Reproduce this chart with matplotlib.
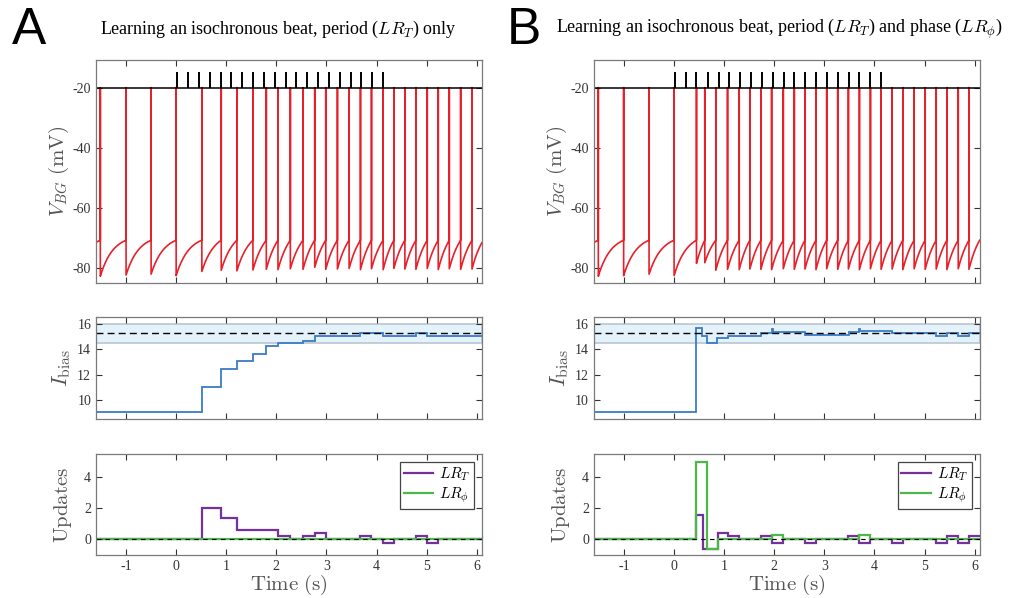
import numpy as np
import matplotlib.pyplot as plt

plt.rcParams['font.family'] = ['Liberation Serif', 'DejaVu Serif']
plt.rcParams['mathtext.fontset'] = 'cm'
plt.rcParams['axes.unicode_minus'] = False

# spike times of the BG neuron (s)
spikes_A = [-1.514, -1.0, -0.5, 0.0, 0.513, 0.9, 1.213, 1.533, 1.8, 2.033, 2.28, 2.533,
            2.767, 2.987, 3.22, 3.453, 3.68, 3.9, 4.133, 4.347, 4.567, 4.787, 5.013,
            5.233, 5.453, 5.68, 5.907]
spikes_B = [-1.513, -1.007, -0.5, 0.0, 0.447, 0.613, 0.833, 1.067, 1.3, 1.513, 1.733,
            1.947, 2.18, 2.4, 2.613, 2.833, 3.047, 3.267, 3.48, 3.7, 3.92, 4.133, 4.353,
            4.567, 4.793, 5.013, 5.233, 5.447, 5.673, 5.887]
# post-spike minimum (mV)
trough_A = [-82.8, -82.4, -82.1, -82.6, -81.2, -80.8, -81.0, -80.7, -80.5, -80.6, -80.3,
            -80.5, -79.8, -80.5, -80.4, -80.2, -80.6, -80.3, -80.6, -80.2, -80.4, -80.5,
            -80.2, -80.6, -80.3, -80.5, -80.4]
trough_B = [-82.8, -82.6, -82.1, -82.6, -78.5, -78.3, -80.8, -80.5, -80.6, -80.4, -80.5,
            -80.6, -80.3, -80.5, -80.4, -80.6, -80.3, -80.5, -80.4, -80.6, -80.3, -80.5,
            -80.4, -80.6, -80.3, -80.5, -80.4, -80.6, -80.3, -80.5]
# isochronous beat (s)
beat = [0.013, 0.233, 0.447, 0.667, 0.887, 1.1, 1.32, 1.533, 1.747, 1.967, 2.187, 2.4,
        2.62, 2.84, 3.053, 3.267, 3.487, 3.7, 3.92, 4.133]

# I_bias
ib_edges_A = [-1.6, 0.513, 0.9, 1.213, 1.533, 1.8, 2.033, 2.533, 2.767, 3.68, 4.133,
              4.787, 5.013, 6.1]
ib_A = [9.05, 11.05, 12.45, 13.05, 13.65, 14.25, 14.45, 14.65, 15.05, 15.25, 15.05,
        15.25, 15.05]
ib_edges_B = [-1.6, 0.433, 0.567, 0.653, 0.853, 1.08, 1.74, 1.947, 1.965, 2.613, 3.487,
              3.687, 3.705, 4.35, 5.22, 5.447, 5.66, 5.887, 6.1]
ib_B = [9.05, 15.65, 15.05, 14.45, 14.85, 15.05, 15.25, 15.55, 15.35, 15.15, 15.35,
        15.6, 15.45, 15.25, 15.05, 15.25, 15.05, 15.25]
ib_target = 15.25
ib_band = (14.49, 16.01)

# updates
lrT_edges_A = [-1.6, 0.513, 0.9, 1.213, 2.033, 2.28, 2.533, 2.767, 2.987, 3.68, 3.9,
               4.133, 4.347, 4.787, 5.013, 5.233, 6.1]
lrT_A = [0, 2.0, 1.4, 0.6, 0.2, 0, 0.2, 0.4, 0, 0.2, 0, -0.2, 0, 0.2, -0.2, 0]
lrP_edges_A = [-1.6, 6.1]
lrP_A = [0]
lrT_edges_B = [-1.6, 0.433, 0.587, 0.867, 1.08, 1.3, 1.733, 1.947, 2.18, 2.613, 2.833,
               3.48, 3.7, 3.92, 4.353, 4.567, 5.22, 5.447, 5.673, 5.887, 6.1]
lrT_B = [0, 1.6, -0.6, 0.4, 0.2, 0, 0.2, -0.2, 0, -0.2, 0, 0.2, -0.2, 0, -0.2, 0, -0.2,
         0.2, -0.2, 0.2]
lrP_edges_B = [-1.6, 0.433, 0.653, 0.867, 1.947, 2.18, 3.7, 3.92, 6.1]
lrP_B = [0, 5.0, -0.6, 0, 0.28, 0, 0.28, 0]

RED = '#e8202a'
BLUE = '#3a7bc8'
PURPLE = '#74309c'
GREEN = '#4cb84a'
LBL = '#555555'
SPINE = '#7a7a7a'


def vtrace(spk, trough, v_pre=-70.8, tau=0.25):
    ts, vs = [], []
    # recovery before the first spike
    T = spk[1] - spk[0]
    s = np.linspace(0, T, 80)
    v = trough[0] + (v_pre - trough[0]) * (1 - np.exp(-s / tau)) / (1 - np.exp(-T / tau))
    ts += list(spk[0] - T + s)
    vs += list(v)
    for k, t0 in enumerate(spk):
        T = (spk[k + 1] - t0) if k + 1 < len(spk) else (t0 - spk[k - 1])
        s = np.linspace(0, T, 80)
        v = trough[k] + (v_pre - trough[k]) * (1 - np.exp(-s / tau)) / (1 - np.exp(-T / tau))
        ts += [t0, t0] + list(t0 + s)
        vs += [v_pre, -20] + list(v)
    return np.array(ts), np.array(vs)


def style(ax, xlabels=False):
    ax.set_xlim(-1.6, 6.1)
    ax.set_xticks(range(-1, 7))
    ax.tick_params(direction='in', top=True, right=True, length=4, width=0.8,
                   colors='#333333', labelsize=10)
    if not xlabels:
        ax.tick_params(labelbottom=False)
    for sp in ax.spines.values():
        sp.set_color(SPINE)
        sp.set_linewidth(0.9)


fig = plt.figure(figsize=(10.16, 5.98), dpi=100)

cols = [(0.0945, spikes_A, trough_A, ib_edges_A, ib_A, lrT_edges_A, lrT_A, lrP_edges_A, lrP_A),
        (0.5846, spikes_B, trough_B, ib_edges_B, ib_B, lrT_edges_B, lrT_B, lrP_edges_B, lrP_B)]

for (x0, spk, tr, ibe, ib, te, tv, pe, pv) in cols:
    w = 0.3796
    # membrane potential
    ax1 = fig.add_axes([x0, 0.527, w, 0.373])
    t, v = vtrace(spk, tr)
    ax1.plot(t, v, color=RED, lw=1.2)
    ax1.axhline(-20, color='k', lw=1.1)
    ax1.vlines(beat, -20, -14.8, color='k', lw=1.4)
    ax1.set_ylim(-85, -10.7)
    ax1.set_yticks([-80, -60, -40, -20])
    ax1.set_ylabel(r'$V_{BG}\ \mathrm{(mV)}$', fontsize=15, color=LBL, labelpad=1)
    style(ax1)

    # bias current
    ax2 = fig.add_axes([x0, 0.2993, w, 0.170])
    ax2.axhspan(ib_band[0], ib_band[1], facecolor='#e4f2fb', edgecolor='#b9c6cf', lw=1.2)
    ax2.axhline(ib_target, color='k', ls=(0, (5, 3)), lw=1.0)
    ax2.stairs(ib, ibe, baseline=None, color=BLUE, lw=1.3)
    ax2.set_ylim(8.5, 16.5)
    ax2.set_yticks([10, 12, 14, 16])
    ax2.set_ylabel(r'$I_\mathrm{bias}$', fontsize=16, color=LBL, labelpad=3)
    style(ax2)

    # learning updates
    ax3 = fig.add_axes([x0, 0.0719, w, 0.169])
    ax3.axhline(0, color='k', ls=(0, (4, 4)), lw=0.8)
    ax3.stairs(tv, te, baseline=None, color=PURPLE, lw=1.6, label=r'$LR_T$')
    ax3.stairs(pv, pe, baseline=None, color=GREEN, lw=1.6, label=r'$LR_\phi$')
    ax3.set_ylim(-1, 5.5)
    ax3.set_yticks([0, 2, 4])
    ax3.set_ylabel(r'$\mathrm{Updates}$', fontsize=15, color=LBL, labelpad=7)
    ax3.set_xlabel(r'$\mathrm{Time\ (s)}$', fontsize=15, color=LBL, labelpad=0)
    style(ax3, xlabels=True)
    leg = ax3.legend(loc='upper right', fancybox=False, framealpha=1, edgecolor='#444444',
                     fontsize=11, handlelength=1.9, borderaxespad=0.5,
                     labelspacing=0.15, handletextpad=0.4, borderpad=0.25)
    leg.get_frame().set_linewidth(0.9)

fig.text(278 / 1016, 0.951, r'Learning an isochronous beat, period ($LR_T$) only',
         ha='center', va='center', fontsize=13)
fig.text(779 / 1016, 0.951,
         r'Learning an isochronous beat, period ($LR_T$) and phase ($LR_\phi$)',
         ha='center', va='center', fontsize=13)
fig.text(12 / 1016, 1 - 6 / 598, 'A', ha='left', va='top', fontsize=37,
         family='Liberation Sans')
fig.text(507 / 1016, 1 - 6 / 598, 'B', ha='left', va='top', fontsize=37,
         family='Liberation Sans')

fig.savefig('out.png', dpi=100)
